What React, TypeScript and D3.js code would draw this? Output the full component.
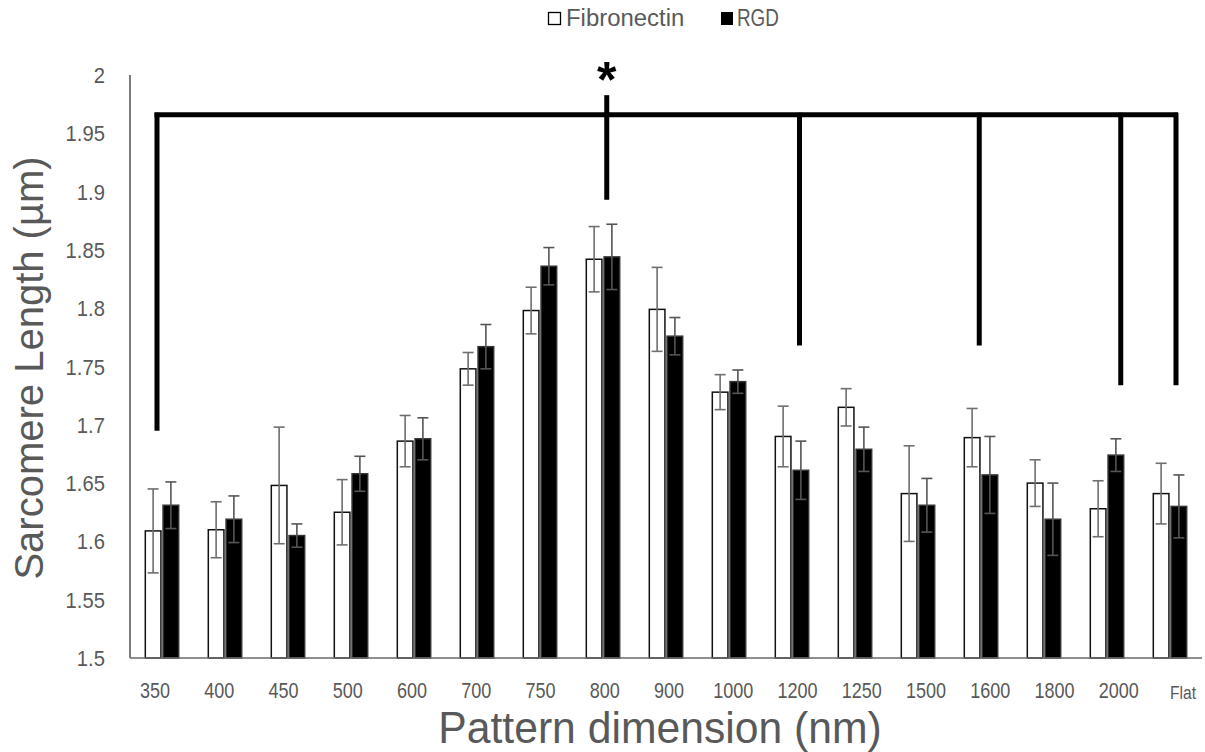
import * as d3 from 'd3';

const categories = ['350', '400', '450', '500', '600', '700', '750', '800', '900', '1000', '1200', '1250', '1500', '1600', '1800', '2000', 'Flat'];
const fibronectin = [1.609, 1.610, 1.648, 1.625, 1.686, 1.748, 1.798, 1.842, 1.799, 1.728, 1.690, 1.715, 1.641, 1.689, 1.650, 1.628, 1.641];
const fibronectinErr = [0.036, 0.024, 0.050, 0.028, 0.022, 0.014, 0.020, 0.028, 0.036, 0.015, 0.026, 0.016, 0.041, 0.025, 0.020, 0.024, 0.026];
const rgd = [1.631, 1.619, 1.605, 1.658, 1.688, 1.767, 1.836, 1.844, 1.776, 1.737, 1.661, 1.679, 1.631, 1.657, 1.619, 1.674, 1.630];
const rgdErr = [0.020, 0.020, 0.010, 0.015, 0.018, 0.019, 0.016, 0.028, 0.016, 0.010, 0.025, 0.019, 0.023, 0.033, 0.031, 0.014, 0.027];
const yTicks = [1.5, 1.55, 1.6, 1.65, 1.7, 1.75, 1.8, 1.85, 1.9, 1.95, 2];
const seriesNames = ['Fibronectin', 'RGD'];

// significance bracket: top level, compared groups and where each drop ends
const bracketLevel = 1.966;
const bracketRef = '800';
const bracketRefTop = 1.981;
const bracketGroups = ['350', '800', '1200', '1600', '2000', 'Flat'];
const bracketEnds = [1.695, 1.893, 1.768, 1.768, 1.734, 1.734];

const W = 1205;
const H = 752;
const margin = { top: 75, right: 3, bottom: 94, left: 130 };
const TXT = '#595959';
const SANS = 'Liberation Sans, Arial, sans-serif';

export default function App() {
  const x0 = d3
    .scaleBand<string>()
    .domain(categories)
    .range([margin.left + 0.5, W - margin.right - 0.5])
    .paddingInner(0.47)
    .paddingOuter(0.235);
  const x1 = d3.scaleBand<string>().domain(seriesNames).range([0, x0.bandwidth()]).paddingInner(0.12);
  // tick labels sit on a slightly wider spacing than the bars
  const xLab = d3.scalePoint<string>().domain(categories).range([155, 1183]);
  const y = d3.scaleLinear().domain([1.5, 2]).range([H - margin.bottom, margin.top]);

  const rows = categories.map((c, i) => ({
    cat: c,
    bars: [
      { key: 'Fibronectin', v: fibronectin[i], e: fibronectinErr[i] },
      { key: 'RGD', v: rgd[i], e: rgdErr[i] },
    ],
  }));

  const cap = 5.5;
  const y0 = y(1.5);

  return (
    <svg width={W} height={H} style={{ position: 'absolute', left: 0, top: 0, background: '#fff' }}>
      {/* legend */}
      <g>
        <rect x={548.5} y={12.5} width={12} height={12} fill="#fff" stroke="#000" strokeWidth={1.3} />
        <g transform="translate(566, 26) scale(1.04, 1)">
          <text fontFamily={SANS} fontSize={23} fill={TXT}>
            Fibronectin
          </text>
        </g>
        <rect x={721} y={12} width={12} height={13} fill="#000" />
        <g transform="translate(737, 26) scale(0.82, 1)">
          <text fontFamily={SANS} fontSize={23} fill={TXT}>
            RGD
          </text>
        </g>
      </g>

      {/* y axis */}
      <line x1={margin.left} x2={margin.left} y1={y(2)} y2={y0} stroke="#262626" strokeWidth={1.2} />
      {yTicks.map((t) => (
        <g key={t} transform={`translate(105, ${y(t) + 8}) scale(0.92, 1)`}>
          <text textAnchor="end" fontFamily={SANS} fontSize={22} fill={TXT}>
            {d3.format('~g')(t)}
          </text>
        </g>
      ))}
      <text
        transform={`translate(43, 368) rotate(-90)`}
        textAnchor="middle"
        fontFamily={SANS}
        fontSize={40}
        fill={TXT}
      >
        Sarcomere Length (µm)
      </text>

      {/* bars */}
      {rows.map((r) => (
        <g key={r.cat} transform={`translate(${x0(r.cat)},0)`}>
          {r.bars.map((b) => {
            const bx = x1(b.key) as number;
            const bw = x1.bandwidth();
            const cx = bx + bw / 2;
            const white = b.key === 'Fibronectin';
            return (
              <g key={b.key}>
                <rect
                  x={bx}
                  y={y(b.v)}
                  width={bw}
                  height={y0 - y(b.v)}
                  fill={white ? '#fff' : '#000'}
                  stroke={white ? '#111' : '#333'}
                  strokeWidth={1.5}
                />
                <g stroke={white ? '#6f6f6f' : '#555'} strokeWidth={1.6}>
                  <line x1={cx} x2={cx} y1={y(b.v + b.e)} y2={y(b.v - b.e)} />
                  <line x1={cx - cap} x2={cx + cap} y1={y(b.v + b.e)} y2={y(b.v + b.e)} />
                  <line x1={cx - cap} x2={cx + cap} y1={y(b.v - b.e)} y2={y(b.v - b.e)} />
                </g>
              </g>
            );
          })}
        </g>
      ))}

      {/* x axis */}
      <line x1={margin.left} x2={W - margin.right} y1={y0} y2={y0} stroke="#6a6a6a" strokeWidth={1.5} />
      {categories.map((c) => {
        const num = !isNaN(+c);
        return (
          <g key={c} transform={`translate(${xLab(c)}, ${num ? 698 : 699}) scale(0.82, 1)`}>
            <text textAnchor="middle" fontFamily={SANS} fontSize={num ? 22 : 19} fill={TXT}>
              {c}
            </text>
          </g>
        );
      })}
      <g transform="translate(660, 743) scale(0.97, 1)">
        <text textAnchor="middle" fontFamily={SANS} fontSize={44} fill={TXT}>
          Pattern dimension (nm)
        </text>
      </g>

      {/* significance bracket */}
      <g stroke="#000" strokeWidth={5} strokeLinecap="butt">
        <line
          x1={(xLab(bracketGroups[0]) as number) - 0.5}
          x2={(xLab(bracketGroups[bracketGroups.length - 1]) as number) - 5}
          y1={y(bracketLevel)}
          y2={y(bracketLevel)}
        />
        {bracketGroups.map((g, i) => {
          const gx = (xLab(g) as number) + (g === 'Flat' ? -7 : g === '1600' ? -11 : 2);
          const top = g === bracketRef ? bracketRefTop : bracketLevel;
          return <line key={g} x1={gx} x2={gx} y1={y(top) - 2} y2={y(bracketEnds[i])} />;
        })}
      </g>
      <text
        x={(xLab(bracketRef) as number) + 2}
        y={97}
        textAnchor="middle"
        fontFamily={SANS}
        fontWeight="bold"
        fontSize={50}
        fill="#000"
      >
        *
      </text>
    </svg>
  );
}
